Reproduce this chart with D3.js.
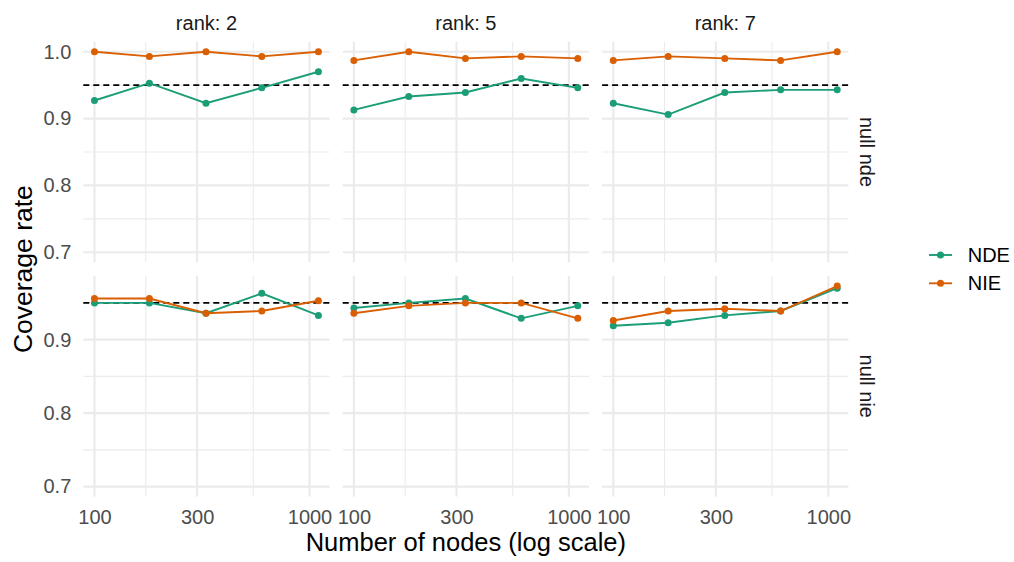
<!DOCTYPE html>
<html>
<head>
<meta charset="utf-8">
<script src="https://cdn.jsdelivr.net/npm/d3@7"></script>
<style>
  body { margin: 0; background: #ffffff; }
  svg { display: block; font-family: "Liberation Sans", Arial, sans-serif; }
  .grid-major { stroke: #EBEBEB; stroke-width: 2.2; }
  .grid-minor { stroke: #EBEBEB; stroke-width: 1.1; }
  .tickLabel { fill: #4D4D4D; font-size: 20px; }
  .stripText { fill: #1A1A1A; font-size: 20px; }
  .axisTitle { fill: #000000; font-size: 25.5px; }
  .legendText { fill: #000000; font-size: 20px; }
</style>
</head>
<body>
<div id="chart" style="width:1014px;height:562px;">
  <svg width="1014" height="562"></svg>
</div>
<script>

// number of nodes used in each simulation (x axis, log scale)
const nodes = [100, 180, 330, 600, 1100];
const ranks = [2, 5, 7];
const scenarios = ["null nde", "null nie"];
const effects = ["NDE", "NIE"];
const effectColors = ["#1B9E77", "#D95F02"];

const xTicks = [100, 300, 1000];
const yTicks = [0.7, 0.8, 0.9, 1.0];
const nominal = 0.95;
const yFloor = 0.7; // lower limit shared by both rows

// coverage rate, one array per rank (2, 5, 7)
const nullNdeNDE = [
    [0.927, 0.953, 0.923, 0.946, 0.970],
    [0.913, 0.933, 0.939, 0.960, 0.946],
    [0.923, 0.906, 0.939, 0.943, 0.943]
];
const nullNdeNIE = [
    [1.000, 0.993, 1.000, 0.993, 1.000],
    [0.987, 1.000, 0.990, 0.993, 0.990],
    [0.987, 0.993, 0.990, 0.987, 1.000]
];
const nullNieNDE = [
    [0.950, 0.950, 0.936, 0.963, 0.933],
    [0.943, 0.950, 0.956, 0.929, 0.946],
    [0.919, 0.923, 0.933, 0.939, 0.970]
];
const nullNieNIE = [
    [0.956, 0.956, 0.936, 0.939, 0.953],
    [0.936, 0.946, 0.950, 0.950, 0.929],
    [0.926, 0.939, 0.942, 0.939, 0.973]
];

function makeChart() {

    /**********************
    ***** BASIC SETUP *****
    **********************/

    const svg = d3.select("#chart").select("svg");

    const panelLeft = 83.3;
    const panelTop = 41.7;
    const panelW = 246.3;
    const panelH = 220.6;
    const gapX = 13.1;
    const gapY = 13.7;

    // rows of the grid: [NDE values, NIE values]
    const rows = [
        [nullNdeNDE, nullNdeNIE],
        [nullNieNDE, nullNieNIE]
    ];

    /***********************
    ***** X & Y SCALES *****
    ***********************/

    // ggplot style 5% expansion, done in log space for x
    const lx = d3.extent(nodes, d => Math.log10(d));
    const padX = (lx[1] - lx[0]) * 0.05;
    const xDomain = [Math.pow(10, lx[0] - padX), Math.pow(10, lx[1] + padX)];

    const xScales = ranks.map((r, i) => {
        const x0 = panelLeft + i * (panelW + gapX);
        return d3.scaleLog().domain(xDomain).range([x0, x0 + panelW]);
    });

    const yScales = rows.map((row, j) => {
        const all = row.flat(2);
        const lo = Math.min(yFloor, d3.min(all));
        const hi = d3.max(all);
        const pad = (hi - lo) * 0.05;
        const y0 = panelTop + j * (panelH + gapY);
        return d3.scaleLinear().domain([lo - pad, hi + pad]).range([y0 + panelH, y0]);
    });

    // minor breaks sit half way between major ones (in transformed space)
    const logTicks = xTicks.map(Math.log10);
    const xMinor = [];
    for (let i = 0; i < logTicks.length - 1; i++) {
        xMinor.push(Math.pow(10, (logTicks[i] + logTicks[i + 1]) / 2));
    }

    /*****************
    ***** PANELS *****
    *****************/

    const line = (xs, ys) => d3.line()
        .x((d, i) => xs(nodes[i]))
        .y(d => ys(d));

    rows.forEach((row, j) => {
        const ys = yScales[j];
        const yDom = ys.domain();
        const yMajor = yTicks.filter(t => t >= yDom[0] && t <= yDom[1]);
        const step = yTicks[1] - yTicks[0];
        const yMinor = d3.range(yTicks[0] - step / 2, yTicks[yTicks.length - 1] + step, step)
            .filter(t => t >= yDom[0] && t <= yDom[1]);

        ranks.forEach((rank, i) => {
            const xs = xScales[i];
            const xr = xs.range();
            const yr = ys.range();
            const panel = svg.append("g").attr("class", "panel");

            // grid lines
            panel.selectAll(".ymin")
                .data(yMinor)
                .enter()
                .append("line")
                .attr("class", "grid-minor")
                .attr("x1", xr[0]).attr("x2", xr[1])
                .attr("y1", d => ys(d)).attr("y2", d => ys(d));

            panel.selectAll(".xmin")
                .data(xMinor)
                .enter()
                .append("line")
                .attr("class", "grid-minor")
                .attr("y1", yr[0]).attr("y2", yr[1])
                .attr("x1", d => xs(d)).attr("x2", d => xs(d));

            panel.selectAll(".ymaj")
                .data(yMajor)
                .enter()
                .append("line")
                .attr("class", "grid-major")
                .attr("x1", xr[0]).attr("x2", xr[1])
                .attr("y1", d => ys(d)).attr("y2", d => ys(d));

            panel.selectAll(".xmaj")
                .data(xTicks)
                .enter()
                .append("line")
                .attr("class", "grid-major")
                .attr("y1", yr[0]).attr("y2", yr[1])
                .attr("x1", d => xs(d)).attr("x2", d => xs(d));

            // nominal 95% reference line
            panel.append("line")
                .attr("x1", xr[0]).attr("x2", xr[1])
                .attr("y1", ys(nominal)).attr("y2", ys(nominal))
                .attr("stroke", "#000000")
                .attr("stroke-width", 1.8)
                .attr("stroke-dasharray", "6,4");

            // lines then points, NDE first
            effects.forEach((eff, k) => {
                const vals = row[k][i];
                panel.append("path")
                    .datum(vals)
                    .attr("fill", "none")
                    .attr("stroke", effectColors[k])
                    .attr("stroke-width", 1.9)
                    .attr("d", line(xs, ys));
            });
            effects.forEach((eff, k) => {
                const vals = row[k][i];
                panel.selectAll(".pt" + k)
                    .data(vals)
                    .enter()
                    .append("circle")
                    .attr("cx", (d, n) => xs(nodes[n]))
                    .attr("cy", d => ys(d))
                    .attr("r", 3.5)
                    .attr("fill", effectColors[k]);
            });
        });

        /*********************
        ***** Y AXIS TEXT *****
        *********************/

        svg.append("g")
            .attr("transform", `translate(${panelLeft}, 0)`)
            .call(d3.axisLeft(ys).tickValues(yMajor).tickFormat(d3.format(".1f"))
                .tickSize(0).tickPadding(12))
            .call(g => g.select(".domain").remove())
            .call(g => g.selectAll("text")
                .attr("class", "tickLabel")
                .attr("fill", null)
                .attr("font-size", null)
                .attr("font-family", null));

        // row strip, rotated
        const yc = (ys.range()[0] + ys.range()[1]) / 2;
        svg.append("text")
            .attr("class", "stripText")
            .attr("transform", `translate(859.5, ${yc}) rotate(90)`)
            .attr("text-anchor", "middle")
            .text(scenarios[j]);
    });

    /*********************
    ***** X AXIS TEXT *****
    *********************/

    const bottom = yScales[1].range()[0];

    xScales.forEach((xs, i) => {
        svg.append("g")
            .attr("transform", `translate(0, ${bottom})`)
            .call(d3.axisBottom(xs).tickValues(xTicks).tickFormat(d3.format("d"))
                .tickSize(0).tickPadding(13))
            .call(g => g.select(".domain").remove())
            .call(g => g.selectAll("text")
                .attr("class", "tickLabel")
                .attr("fill", null)
                .attr("font-size", null)
                .attr("font-family", null));

        const xr = xs.range();
        svg.append("text")
            .attr("class", "stripText")
            .attr("x", (xr[0] + xr[1]) / 2)
            .attr("y", 22.7)
            .attr("dy", "0.35em")
            .attr("text-anchor", "middle")
            .text("rank: " + ranks[i]);
    });

    /*************************
    ***** AXIS TITLES *****
    *************************/

    const xMid = (xScales[0].range()[0] + xScales[2].range()[1]) / 2;
    const yMid = (yScales[0].range()[1] + yScales[1].range()[0]) / 2;

    svg.append("text")
        .attr("class", "axisTitle")
        .attr("x", xMid)
        .attr("y", 551)
        .attr("text-anchor", "middle")
        .text("Number of nodes (log scale)");

    svg.append("text")
        .attr("class", "axisTitle")
        .attr("transform", `translate(32, ${yMid}) rotate(-90)`)
        .attr("text-anchor", "middle")
        .style("font-size", "26.5px")
        .text("Coverage rate");

    /*****************
    ***** LEGEND *****
    *****************/

    const legend = svg.append("g")
        .attr("id", "legend")
        .attr("transform", "translate(929, 255)");

    effects.forEach((eff, k) => {
        const row = legend.append("g")
            .attr("transform", `translate(0, ${k * 28.3})`);
        row.append("line")
            .attr("x1", 0).attr("x2", 23)
            .attr("y1", 0).attr("y2", 0)
            .attr("stroke", effectColors[k])
            .attr("stroke-width", 1.9);
        row.append("circle")
            .attr("cx", 11.5).attr("cy", 0)
            .attr("r", 3.5)
            .attr("fill", effectColors[k]);
        row.append("text")
            .attr("class", "legendText")
            .attr("x", 38.7)
            .attr("y", 0)
            .attr("dy", "0.35em")
            .text(eff);
    });
}

makeChart();
</script>
</body>
</html>
